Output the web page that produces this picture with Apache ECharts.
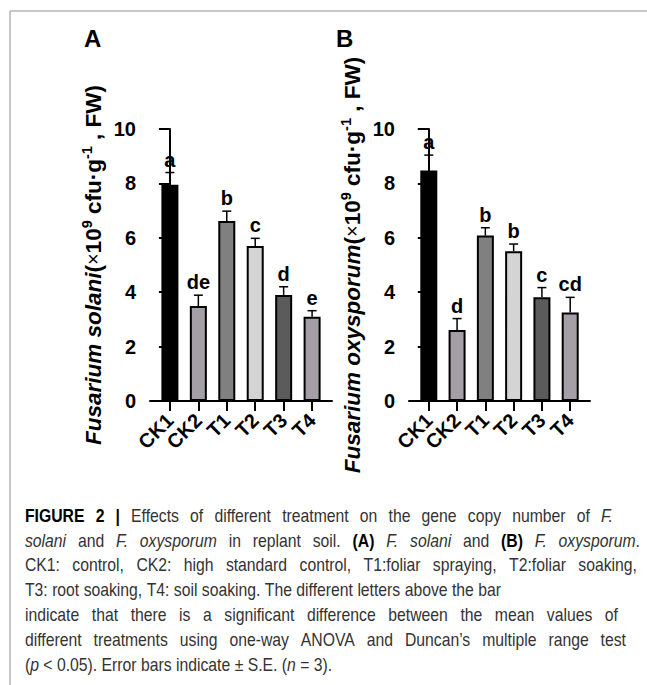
<!DOCTYPE html>
<html>
<head>
<meta charset="utf-8">
<script src="https://cdn.jsdelivr.net/npm/echarts@6/dist/echarts.min.js"></script>
<style>
html,body{margin:0;padding:0;background:#fff;}
#chart{width:647px;height:685px;}
</style>
</head>
<body>
<div id="chart"></div>
<script>
const categories = ['CK1', 'CK2', 'T1', 'T2', 'T3', 'T4'];
const solaniMean = [7.95, 3.49, 6.62, 5.70, 3.90, 3.10];
const solaniErr = [0.45, 0.40, 0.36, 0.28, 0.30, 0.22];
const solaniLetters = ['a', 'de', 'b', 'c', 'd', 'e'];
const oxyMean = [8.47, 2.61, 6.08, 5.51, 3.81, 3.25];
const oxyErr = [0.57, 0.42, 0.29, 0.26, 0.36, 0.56];
const oxyLetters = ['a', 'd', 'b', 'b', 'c', 'cd'];
const barColors = ['#000000', '#a49fa7', '#808080', '#d4d4d4', '#5b5b5b', '#a49fa7'];
const yTicks = [0, 2, 4, 6, 8, 10];

const FONT = '"Liberation Sans", Arial, Helvetica, sans-serif';
const CAPFONT = '"Liberation Sans", Arial, sans-serif';
const CAPSIZE = 17.5;
const CAPSCALE = 0.9;
const chart = echarts.init(document.getElementById('chart'), null, {renderer: 'svg'});

function barData(means) {
  return means.map((v, i) => ({value: [i, v], itemStyle: {color: barColors[i]}}));
}
function errData(means, errs) {
  return means.map((v, i) => [i, v, errs[i]]);
}
function errRender(letters) {
  return function (params, api) {
    const x = api.value(0), m = api.value(1), e = api.value(2);
    const p0 = api.coord([x, m]);
    const p1 = api.coord([x, m + e]);
    return {
      type: 'group',
      children: [
        {type: 'line', shape: {x1: p0[0], y1: p0[1], x2: p1[0], y2: p1[1]}, style: {stroke: '#000', lineWidth: 1.5}},
        {type: 'line', shape: {x1: p1[0] - 4.5, y1: p1[1], x2: p1[0] + 4.5, y2: p1[1]}, style: {stroke: '#000', lineWidth: 1.5}},
        {type: 'text', x: p1[0], y: p1[1] - 3, style: {text: letters[params.dataIndex], font: 'bold 20px ' + FONT, fill: '#000', align: 'center', verticalAlign: 'bottom'}}
      ]
    };
  };
}

function yAxisFor(gridIndex, name) {
  return {
    type: 'value', gridIndex: gridIndex, min: 0, max: 10, interval: 2,
    axisLine: {show: true, lineStyle: {color: '#000', width: 2}},
    axisTick: {show: true, length: 11, lineStyle: {color: '#000', width: 2}},
    axisLabel: {margin: 14, color: '#000', fontSize: 20, fontWeight: 'bold', fontFamily: FONT},
    splitLine: {show: false},
    name: name, nameLocation: 'middle', nameRotate: 90, nameGap: 43,
    nameTextStyle: {
      color: '#000', fontFamily: FONT,
      rich: {
        i: {fontStyle: 'italic', fontWeight: 'bold', fontSize: 22.5, lineHeight: 28, fontFamily: FONT, color: '#000', verticalAlign: 'middle'},
        n: {fontWeight: 'bold', fontSize: 22.5, lineHeight: 28, fontFamily: FONT, color: '#000', verticalAlign: 'middle'},
        x: {fontWeight: 'normal', fontSize: 20, lineHeight: 28, fontFamily: FONT, color: '#000', verticalAlign: 'middle'},
        s: {fontWeight: 'bold', fontSize: 14.5, lineHeight: 14, fontFamily: FONT, color: '#000', verticalAlign: 'top'}
      }
    }
  };
}
function xAxisFor(gridIndex) {
  return {
    type: 'value', gridIndex: gridIndex, min: -0.7, max: 5.7,
    axisLine: {show: true, onZero: false, lineStyle: {color: '#000', width: 2}},
    axisTick: {show: true, length: 10, customValues: [0, 1, 2, 3, 4, 5], lineStyle: {color: '#000', width: 2}},
    axisLabel: {
      customValues: [0, 1, 2, 3, 4, 5], rotate: 45, margin: 16,
      color: '#000', fontSize: 20, fontWeight: 'bold', fontFamily: FONT,
      formatter: v => categories[Math.round(v)]
    },
    splitLine: {show: false}
  };
}

// caption: segments [style, text]; style n = normal, i = italic, b = bold
const captionLines = [
  [['b', 'FIGURE 2 |'], ['n', ' Effects of different treatment on the gene copy number of '], ['i', 'F.']],
  [['i', 'solani'], ['n', ' and '], ['i', 'F. oxysporum'], ['n', ' in replant soil. '], ['b', '(A)'], ['n', ' '], ['i', 'F. solani'], ['n', ' and '], ['b', '(B)'], ['n', ' '], ['i', 'F. oxysporum'], ['n', '.']],
  [['n', 'CK1: control, CK2: high standard control, T1:foliar spraying, T2:foliar soaking,']],
  [['n', 'T3: root soaking, T4: soil soaking. The different letters above the bar']],
  [['n', 'indicate that there is a significant difference between the mean values of']],
  [['n', 'different treatments using one-way ANOVA and Duncan\u2019s multiple range test']],
  [['n', '('], ['i', 'p'], ['n', ' < 0.05). Error bars indicate \u00b1 S.E. ('], ['i', 'n'], ['n', ' = 3).']]
];
// layout: right edge of each caption line (null = natural width)
const captionLineEnds = [613, 640, 637, null, 618, 626, null];

const styleFont = {
  n: 'normal normal ' + CAPSIZE + 'px ' + CAPFONT,
  i: 'italic normal ' + CAPSIZE + 'px ' + CAPFONT,
  b: 'normal bold ' + CAPSIZE + 'px ' + CAPFONT
};
const measureCtx = document.createElement('canvas').getContext('2d');
function measure(style, text) {
  measureCtx.font = styleFont[style];
  return measureCtx.measureText(text).width;
}
function buildCaptionLine(segs, end) {
  const words = [];
  let cur = [];
  segs.forEach(([s, t]) => {
    const parts = t.split(' ');
    parts.forEach((p, j) => {
      if (j > 0) { if (cur.length) words.push(cur); cur = []; }
      if (p.length) cur.push([s, p]);
    });
  });
  if (cur.length) words.push(cur);
  let total = 0;
  words.forEach(w => w.forEach(([s, t]) => { total += measure(s, t); }));
  const spaceW = measure('n', ' ');
  let gap = spaceW;
  if (end != null && words.length > 1) {
    gap = Math.max(spaceW, ((end - 25) / CAPSCALE - total) / (words.length - 1));
  }
  const text = words.map(w => w.map(([s, t]) => '{' + s + '|' + t + '}').join('')).join('{g|\u00a0}');
  return {text: text, gap: gap};
}

const graphics = [
  {type: 'line', shape: {x1: 10, y1: 11, x2: 647, y2: 11}, style: {stroke: '#b4b4b4', lineWidth: 1.5}},
  {type: 'line', shape: {x1: 10, y1: 11, x2: 10, y2: 685}, style: {stroke: '#b4b4b4', lineWidth: 1.5}},
  {type: 'text', left: 84, top: 26, style: {text: 'A', font: 'bold 24px ' + FONT, fill: '#000'}},
  {type: 'text', left: 336, top: 26, style: {text: 'B', font: 'bold 24px ' + FONT, fill: '#000'}}
];
captionLines.forEach((segs, k) => {
  const built = buildCaptionLine(segs, captionLineEnds[k]);
  graphics.push({
    type: 'text', x: 25, y: 507 + k * 24.8, scaleX: CAPSCALE,
    style: {
      text: built.text,
      rich: {
        n: {fontSize: CAPSIZE, fontFamily: CAPFONT, fill: '#333'},
        i: {fontSize: CAPSIZE, fontFamily: CAPFONT, fontStyle: 'italic', fill: '#333'},
        b: {fontSize: CAPSIZE, fontFamily: CAPFONT, fontWeight: 'bold', fill: '#000'},
        g: {fontSize: CAPSIZE, fontFamily: CAPFONT, width: built.gap}
      }
    }
  });
});

chart.setOption({
  animation: false,
  backgroundColor: '#fff',
  grid: [
    {left: 150, top: 129, width: 182, height: 272},
    {left: 409, top: 129, width: 181, height: 272}
  ],
  xAxis: [xAxisFor(0), xAxisFor(1)],
  yAxis: [
    yAxisFor(0, '{i|Fusarium solani}{n|(}{x|\u00d7}{n|10}{s|9}{n| cfu\u00b7g}{s|-1}{n| , FW)}'),
    yAxisFor(1, '{i|Fusarium oxysporum}{n|(}{x|\u00d7}{n|10}{s|9}{n| cfu\u00b7g}{s|-1}{n| , FW)}')
  ],
  graphic: graphics,
  series: [
    {type: 'bar', xAxisIndex: 0, yAxisIndex: 0, barWidth: 17, data: barData(solaniMean),
      itemStyle: {borderColor: '#000', borderWidth: 2}},
    {type: 'custom', xAxisIndex: 0, yAxisIndex: 0, clip: false, data: errData(solaniMean, solaniErr),
      renderItem: errRender(solaniLetters), z: 5},
    {type: 'bar', xAxisIndex: 1, yAxisIndex: 1, barWidth: 17, data: barData(oxyMean),
      itemStyle: {borderColor: '#000', borderWidth: 2}},
    {type: 'custom', xAxisIndex: 1, yAxisIndex: 1, clip: false, data: errData(oxyMean, oxyErr),
      renderItem: errRender(oxyLetters), z: 5}
  ]
});
</script>
</body>
</html>
